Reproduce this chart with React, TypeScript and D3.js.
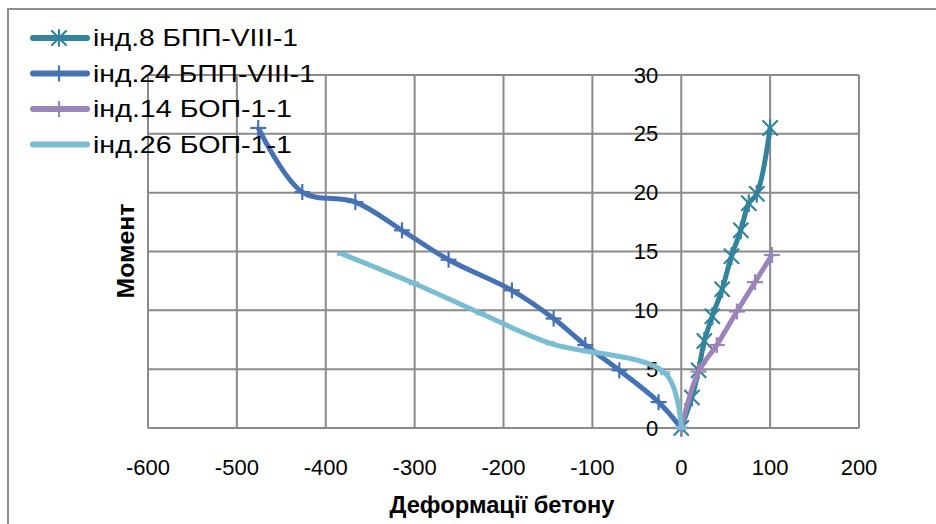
import React from "react";
import * as d3 from "d3";

// Concrete strain vs. bending moment for four specimens
const seriesNames = ["інд.8 БПП-VIII-1", "інд.24 БПП-VIII-1", "інд.14 БОП-1-1", "інд.26 БОП-1-1"];

const strain8 = [0, 12, 19.5, 26, 35, 46, 56.5, 67, 76, 85, 100];
const moment8 = [0, 2.6, 4.9, 7.4, 9.5, 11.8, 14.6, 16.8, 19.1, 19.9, 25.5];

const strain24 = [0, -25.5, -69.7, -108, -143.6, -190.5, -261.8, -314.2, -366.7, -426.4, -476];
const moment24 = [0, 2.2, 4.9, 7.05, 9.3, 11.7, 14.3, 16.8, 19.2, 20.05, 25.5];

const strain14 = [0, 19.5, 40, 62.6, 83, 102];
const moment14 = [0, 4.8, 7.05, 9.9, 12.4, 14.7];

const strain26 = [0, -18, -147.4, -226, -301, -381.7];
const moment26 = [0, 4.65, 7.2, 9.75, 12.3, 14.8];

const xTicks = [-600, -500, -400, -300, -200, -100, 0, 100, 200];
const yTicks = [0, 5, 10, 15, 20, 25, 30];

const xTitle = "Деформації бетону";
const yTitle = "Момент";

const colors = ["#31849B", "#4672B5", "#9A84BA", "#7ABDD3"];
const markers = ["star", "plus", "plus", "dash"];

const W = 936;
const H = 524;
const plot = { left: 148, right: 859, top: 75, bottom: 428 };
const gridColor = "#8a8a8a";
const font = "'Liberation Sans', Arial, sans-serif";

function Marker({ kind, x, y, color }: { kind: string; x: number; y: number; color: string }) {
  const s = 7;
  if (kind === "star") {
    return (
      <g stroke={color} strokeWidth={2.2} strokeLinecap="round">
        <line x1={x - s} y1={y - s} x2={x + s} y2={y + s} />
        <line x1={x - s} y1={y + s} x2={x + s} y2={y - s} />
        <line x1={x} y1={y - s - 1} x2={x} y2={y + s + 1} />
      </g>
    );
  }
  if (kind === "plus") {
    return (
      <g stroke={color} strokeWidth={2.2}>
        <line x1={x - s - 1} y1={y} x2={x + s + 1} y2={y} />
        <line x1={x} y1={y - s - 1} x2={x} y2={y + s + 1} />
      </g>
    );
  }
  return <line x1={x - 5} y1={y} x2={x + 5} y2={y} stroke={color} strokeWidth={4} />;
}

export default function App() {
  const x = d3.scaleLinear().domain([-600, 200]).range([plot.left, plot.right]);
  const y = d3.scaleLinear().domain([0, 30]).range([plot.bottom, plot.top]);

  const series = [
    { xs: strain8, ys: moment8 },
    { xs: strain24, ys: moment24 },
    { xs: strain14, ys: moment14 },
    { xs: strain26, ys: moment26 },
  ].map((s, i) => ({
    name: seriesNames[i],
    color: colors[i],
    marker: markers[i],
    points: s.xs.map((v, j) => [v, s.ys[j]] as [number, number]),
  }));

  const line = d3
    .line<[number, number]>()
    .x((d) => x(d[0]))
    .y((d) => y(d[1]))
    .curve(d3.curveCatmullRom.alpha(0.5));

  const legendTextLength = [205, 222, 199, 199];

  return (
    <svg
      width={W}
      height={H}
      style={{ position: "fixed", left: 0, top: 0, background: "#fff" }}
      fontFamily={font}
    >
      <rect x={0} y={0} width={W} height={H} fill="#fff" />
      {/* chart frame */}
      <rect x={8} y={9} width={1200} height={1200} fill="none" stroke="#8e8e8e" strokeWidth={2} />

      {/* grid */}
      <g stroke={gridColor} strokeWidth={2}>
        {yTicks.map((t) => (
          <line key={"h" + t} x1={plot.left} x2={plot.right} y1={y(t)} y2={y(t)} />
        ))}
        {xTicks.map((t) => (
          <line key={"v" + t} x1={x(t)} x2={x(t)} y1={plot.top} y2={plot.bottom} />
        ))}
      </g>

      {/* tick labels */}
      <g fontSize={22} fill="#000">
        {yTicks.map((t) => (
          <text key={"yl" + t} x={x(0) - 23} y={y(t)} textAnchor="end" dominantBaseline="central">
            {t}
          </text>
        ))}
        {xTicks.map((t) => (
          <text key={"xl" + t} x={x(t)} y={467} textAnchor="middle" dominantBaseline="central">
            {t}
          </text>
        ))}
      </g>

      {/* axis titles */}
      <text
        x={502}
        y={505}
        textAnchor="middle"
        dominantBaseline="central"
        fontWeight="bold"
        fontSize={23}
        textLength={225}
        lengthAdjust="spacingAndGlyphs"
      >
        {xTitle}
      </text>
      <text
        transform={`translate(126,251) rotate(-90)`}
        textAnchor="middle"
        dominantBaseline="central"
        fontWeight="bold"
        fontSize={23}
        textLength={95}
        lengthAdjust="spacingAndGlyphs"
      >
        {yTitle}
      </text>

      {/* series */}
      {series.map((s) => (
        <g key={s.name}>
          <path d={line(s.points) || ""} fill="none" stroke={s.color} strokeWidth={5} strokeLinejoin="round" />
          {s.points.map((p, j) => (
            <Marker key={j} kind={s.marker} x={x(p[0])} y={y(p[1])} color={s.color} />
          ))}
        </g>
      ))}

      {/* legend */}
      {series.map((s, i) => {
        const ly = 38 + i * 35.5;
        return (
          <g key={"lg" + i}>
            <line x1={33} x2={87} y1={ly} y2={ly} stroke={s.color} strokeWidth={6} strokeLinecap="round" />
            {s.marker !== "dash" && <Marker kind={s.marker} x={59} y={ly} color={s.color} />}
            <text
              x={93}
              y={ly}
              fontSize={23}
              dominantBaseline="central"
              textLength={legendTextLength[i]}
              lengthAdjust="spacingAndGlyphs"
            >
              {s.name}
            </text>
          </g>
        );
      })}
    </svg>
  );
}
